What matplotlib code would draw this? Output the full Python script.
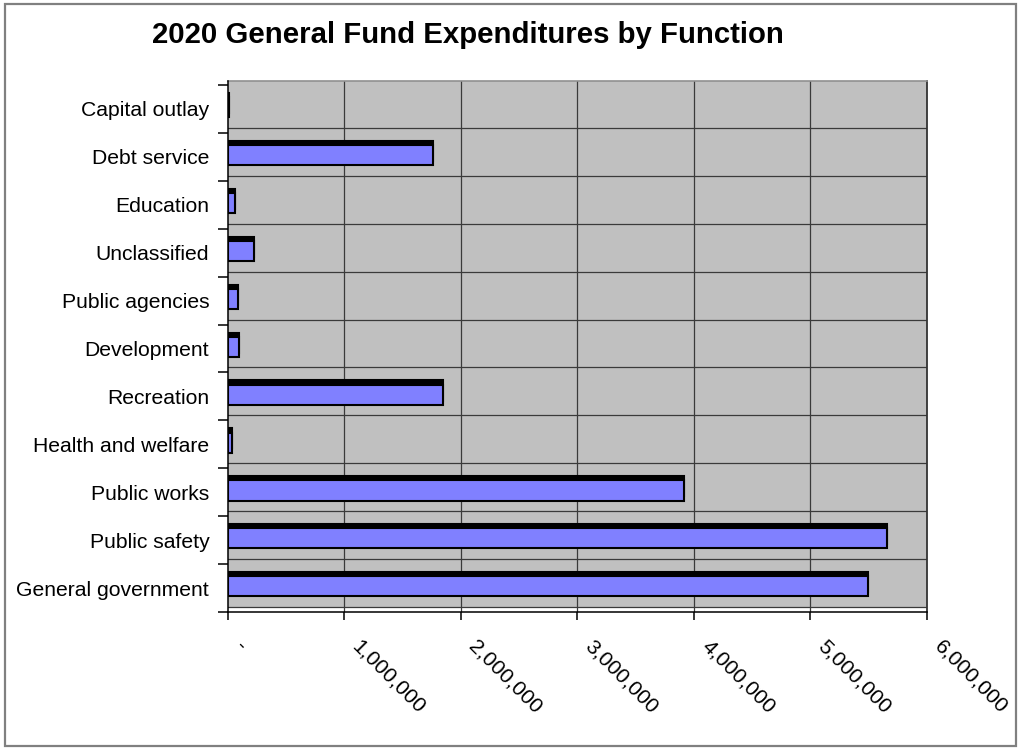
import matplotlib
matplotlib.use("Agg")
import matplotlib.pyplot as plt
from matplotlib.patches import Rectangle
from matplotlib.transforms import ScaledTranslation, offset_copy

plt.rcParams['font.family'] = ['Liberation Sans', 'DejaVu Sans']

# expenditures by function, bottom to top
functions = ["General government", "Public safety", "Public works", "Health and welfare",
             "Recreation", "Development", "Public agencies", "Unclassified",
             "Education", "Debt service", "Capital outlay"]
amounts = [5500000, 5660000, 3917000, 37000, 1847000, 94000, 88000, 223000,
           58000, 1760000, 10000]
x_ticks = [0, 1000000, 2000000, 3000000, 4000000, 5000000, 6000000]
x_ticklabels = ["-", "1,000,000", "2,000,000", "3,000,000", "4,000,000",
                "5,000,000", "6,000,000"]

W, H = 1019, 748
fig = plt.figure(figsize=(W / 100, H / 100), dpi=100)

# outer chart border
fig.patches.append(Rectangle((5 / W, 2 / H), 1011 / W, 742 / H, transform=fig.transFigure,
                             fill=False, edgecolor="#808080", linewidth=1.6))

# axes box in pixels: left 228, right 926.5, bottom 612, top 81
ax = fig.add_axes([228 / W, (H - 612) / H, 698.5 / W, 531 / H])
ax.set_facecolor("none")

n = len(functions)
px_per_cat = 527 / n
top_extra = 4 / px_per_cat
ax.set_ylim(-0.5, n - 0.5 + top_extra)
ax.set_xlim(0, 6000000)

grid_shift = 5 / px_per_cat
# gray plot area
ax.add_patch(Rectangle((0, -0.5 + grid_shift), 6000000, n + top_extra - grid_shift,
                       facecolor="#C0C0C0", edgecolor="none", zorder=0))
# horizontal gridlines at category boundaries
for k in range(0, n):
    ax.axhline(k - 0.5 + grid_shift, color="#3a3a3a", linewidth=0.9, zorder=1)
# vertical gridlines
for xv in x_ticks[1:-1]:
    ax.axvline(xv, color="#3a3a3a", linewidth=0.9, zorder=1)

# bars with a black shadow offset upward
ypos = [i + 1.7 / px_per_cat for i in range(n)]
shadow = ax.transData + ScaledTranslation(0, 4.2 / 100, fig.dpi_scale_trans)
ax.barh(ypos, amounts, height=0.42, color="black", edgecolor="black",
        linewidth=1.5, transform=shadow, zorder=2)
ax.barh(ypos, amounts, height=0.42, color="#8080FF", edgecolor="black",
        linewidth=1.5, zorder=3)

for side in ["left", "bottom"]:
    ax.spines[side].set_color("black")
    ax.spines[side].set_linewidth(1.1)
ax.spines["top"].set_color("#909090")
ax.spines["top"].set_linewidth(1.2)
ax.spines["right"].set_color("#333333")
ax.spines["right"].set_linewidth(1.3)
ax.spines["left"].set_zorder(4)

# category axis: ticks between categories, labels at centres
ax.set_yticks([k - 0.5 for k in range(n + 1)])
ax.set_yticklabels([])
ax.set_yticks(range(n), minor=True)
ax.set_yticklabels(functions, minor=True, fontsize=15.2)
ax.tick_params(axis="y", which="major", length=7, width=1.1, direction="out")
ax.tick_params(axis="y", which="minor", length=0, pad=13.5)

ax.set_xticks(x_ticks)
ax.set_xticklabels([])
ax.tick_params(axis="x", length=6, width=1.1, direction="out")

# slanted value labels under the axis
lbl_trans = offset_copy(ax.get_xaxis_transform(), fig=fig, x=11, y=-31, units="dots")
for xv, lab in zip(x_ticks, x_ticklabels):
    ax.text(xv, 0, lab, transform=lbl_trans, rotation=-45, rotation_mode="anchor",
            ha="left", va="center", fontsize=15.2)

fig.text(468 / W, 1 - 35 / H, "2020 General Fund Expenditures by Function",
         ha="center", va="center", fontsize=21.2, fontweight="bold")

fig.savefig("out.png", dpi=100)
